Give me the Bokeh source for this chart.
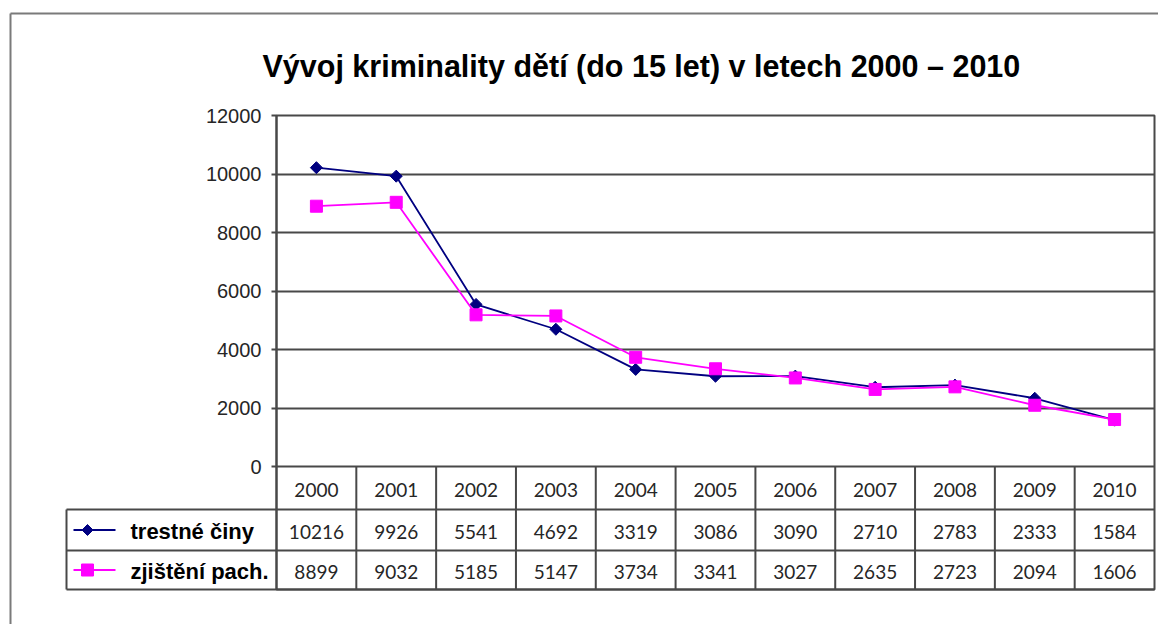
import math
from bokeh.plotting import figure
from bokeh.models import Range1d, FixedTicker
from bokeh.core.properties import value
from bokeh.embed import file_html
from bokeh.resources import INLINE

# ---- data ----
years = ["2000", "2001", "2002", "2003", "2004", "2005", "2006", "2007", "2008", "2009", "2010"]
trestne_ciny = [10216, 9926, 5541, 4692, 3319, 3086, 3090, 2710, 2783, 2333, 1584]
zjisteni_pach = [8899, 9032, 5185, 5147, 3734, 3341, 3027, 2635, 2723, 2094, 1606]
series_names = ["trestné činy", "zjištění pach."]
y_ticks = [0, 2000, 4000, 6000, 8000, 10000, 12000]
title_text = "Vývoj kriminality dětí (do 15 let) v letech 2000 – 2010"

# ---- layout constants (page pixels) ----
W, H = 1158, 624
PAGE = 0
FRAME_L, FRAME_R, FRAME_T, FRAME_B = 276, 1154, 115, 589
ZERO_Y = 466
ROW_EDGES = [0, 43, 84, 123]          # table row boundaries, px below zero line
LEG_L = 66
GRID_C = "#484848"
GRID_W = 2
NAVY = "#000080"
MAGENTA = "#FF00FF"

n = len(years)
xs = list(range(n))
colw = (FRAME_R - FRAME_L) / n


def px2x(px):
    return -0.5 + (px - FRAME_L) / colw


def py2t(py):
    return py - ZERO_Y


ymax = y_ticks[-1]
plot_h = ZERO_Y - FRAME_T
ymin = -ymax * (FRAME_B - ZERO_Y) / plot_h

p = figure(width=W, height=H, output_backend="svg", toolbar_location=None,
           x_range=Range1d(-0.5, n - 0.5), y_range=Range1d(ymin, ymax),
           x_axis_location=None,
           min_border_left=FRAME_L - PAGE, min_border_right=PAGE + W - FRAME_R,
           min_border_top=FRAME_T - PAGE, min_border_bottom=PAGE + H - FRAME_B,
           title=title_text)
p.extra_y_ranges = {"table": Range1d(start=FRAME_B - ZERO_Y, end=FRAME_T - ZERO_Y)}

p.title.align = "left"
p.title.offset = 262 - FRAME_L
p.title.text_font = "Liberation Sans"
p.title.text_font_size = "30.5px"
p.title.text_font_style = "bold"
p.title.text_color = "#000000"
p.title.standoff = 66

p.outline_line_color = GRID_C
p.outline_line_width = GRID_W
p.outline_line_alpha = 1.0

p.xgrid.visible = False
p.ygrid.ticker = FixedTicker(ticks=y_ticks)
p.ygrid.grid_line_color = GRID_C
p.ygrid.grid_line_width = GRID_W

ax = p.yaxis[0]
ax.ticker = FixedTicker(ticks=y_ticks)
ax.axis_line_color = GRID_C
ax.axis_line_width = GRID_W
ax.major_tick_line_color = GRID_C
ax.major_tick_line_width = GRID_W
ax.major_tick_out = 5
ax.major_tick_in = 0
ax.minor_tick_line_color = None
ax.major_label_standoff = 10
ax.major_label_text_font = "Liberation Sans"
ax.major_label_text_font_size = "20px"
ax.major_label_text_color = "#262626"

# ---- series ----
p.line(xs, trestne_ciny, line_color=NAVY, line_width=1.8)
p.scatter(xs, trestne_ciny, marker="square", angle=math.pi / 4, size=8.5,
          fill_color=NAVY, line_color=NAVY)
p.line(xs, zjisteni_pach, line_color=MAGENTA, line_width=1.8)
p.scatter(xs, zjisteni_pach, marker="square", size=12,
          fill_color=MAGENTA, line_color=MAGENTA)

# ---- data table ----
mids = [(ROW_EDGES[i] + ROW_EDGES[i + 1]) / 2 + 1.5 for i in range(3)]
num_font = value("Lato")
p.text(xs, [mids[0]] * n, text=years, y_range_name="table", text_align="center",
       text_baseline="middle", text_font=num_font, text_font_size="19px", text_color="#262626")
p.text(xs, [mids[1]] * n, text=[str(v) for v in trestne_ciny], y_range_name="table",
       text_align="center", text_baseline="middle", text_font=num_font,
       text_font_size="19px", text_color="#262626")
p.text(xs, [mids[2]] * n, text=[str(v) for v in zjisteni_pach], y_range_name="table",
       text_align="center", text_baseline="middle", text_font=num_font,
       text_font_size="19px", text_color="#262626")

# column separators
p.segment(x0=[i + 0.5 for i in xs[:-1]], y0=[ROW_EDGES[0]] * (n - 1),
          x1=[i + 0.5 for i in xs[:-1]], y1=[ROW_EDGES[-1]] * (n - 1),
          y_range_name="table", line_color=GRID_C, line_width=GRID_W)
# row separators (extend into the legend column)
xl = px2x(LEG_L)
xr = n - 0.5
p.segment(x0=[xl, xl, xl], y0=ROW_EDGES[1:], x1=[xr, xr, xr], y1=ROW_EDGES[1:],
          y_range_name="table", line_color=GRID_C, line_width=GRID_W, level="overlay")
p.segment(x0=[xl], y0=[ROW_EDGES[1]], x1=[xl], y1=[ROW_EDGES[-1]],
          y_range_name="table", line_color=GRID_C, line_width=GRID_W, level="overlay")

# legend keys in the table
key_y = [mids[1] - 1.5, mids[2] - 1.5]
p.segment(x0=[px2x(73)] * 2, y0=key_y, x1=[px2x(115)] * 2, y1=key_y,
          line_color=[NAVY, MAGENTA], line_width=1.8, y_range_name="table", level="overlay")
kx, r = 87, 5.5
p.patch([px2x(kx), px2x(kx + r), px2x(kx), px2x(kx - r)],
        [key_y[0] - r, key_y[0], key_y[0] + r, key_y[0]],
        fill_color=NAVY, line_color=NAVY, y_range_name="table", level="overlay")
s = 6
p.patch([px2x(kx - s), px2x(kx + s), px2x(kx + s), px2x(kx - s)],
        [key_y[1] - s, key_y[1] - s, key_y[1] + s, key_y[1] + s],
        fill_color=MAGENTA, line_color=MAGENTA, y_range_name="table", level="overlay")
p.text([px2x(130)] * 2, [mids[1], mids[2]], text=series_names, y_range_name="table",
       text_align="left", text_baseline="middle", text_font=value("Liberation Sans"),
       text_font_size="22px", text_font_style="bold", text_color="#000000", level="overlay")

# outer chart border
bx0, bx1 = px2x(10), px2x(PAGE + W)
by0, by1 = py2t(13), py2t(PAGE + H)
p.segment(x0=[bx0, bx0], y0=[by0, by0], x1=[bx1, bx0], y1=[by0, by1],
          y_range_name="table", line_color="#7a7a7a", line_width=2, level="overlay")

open("out.html", "w").write(file_html(p, INLINE))
